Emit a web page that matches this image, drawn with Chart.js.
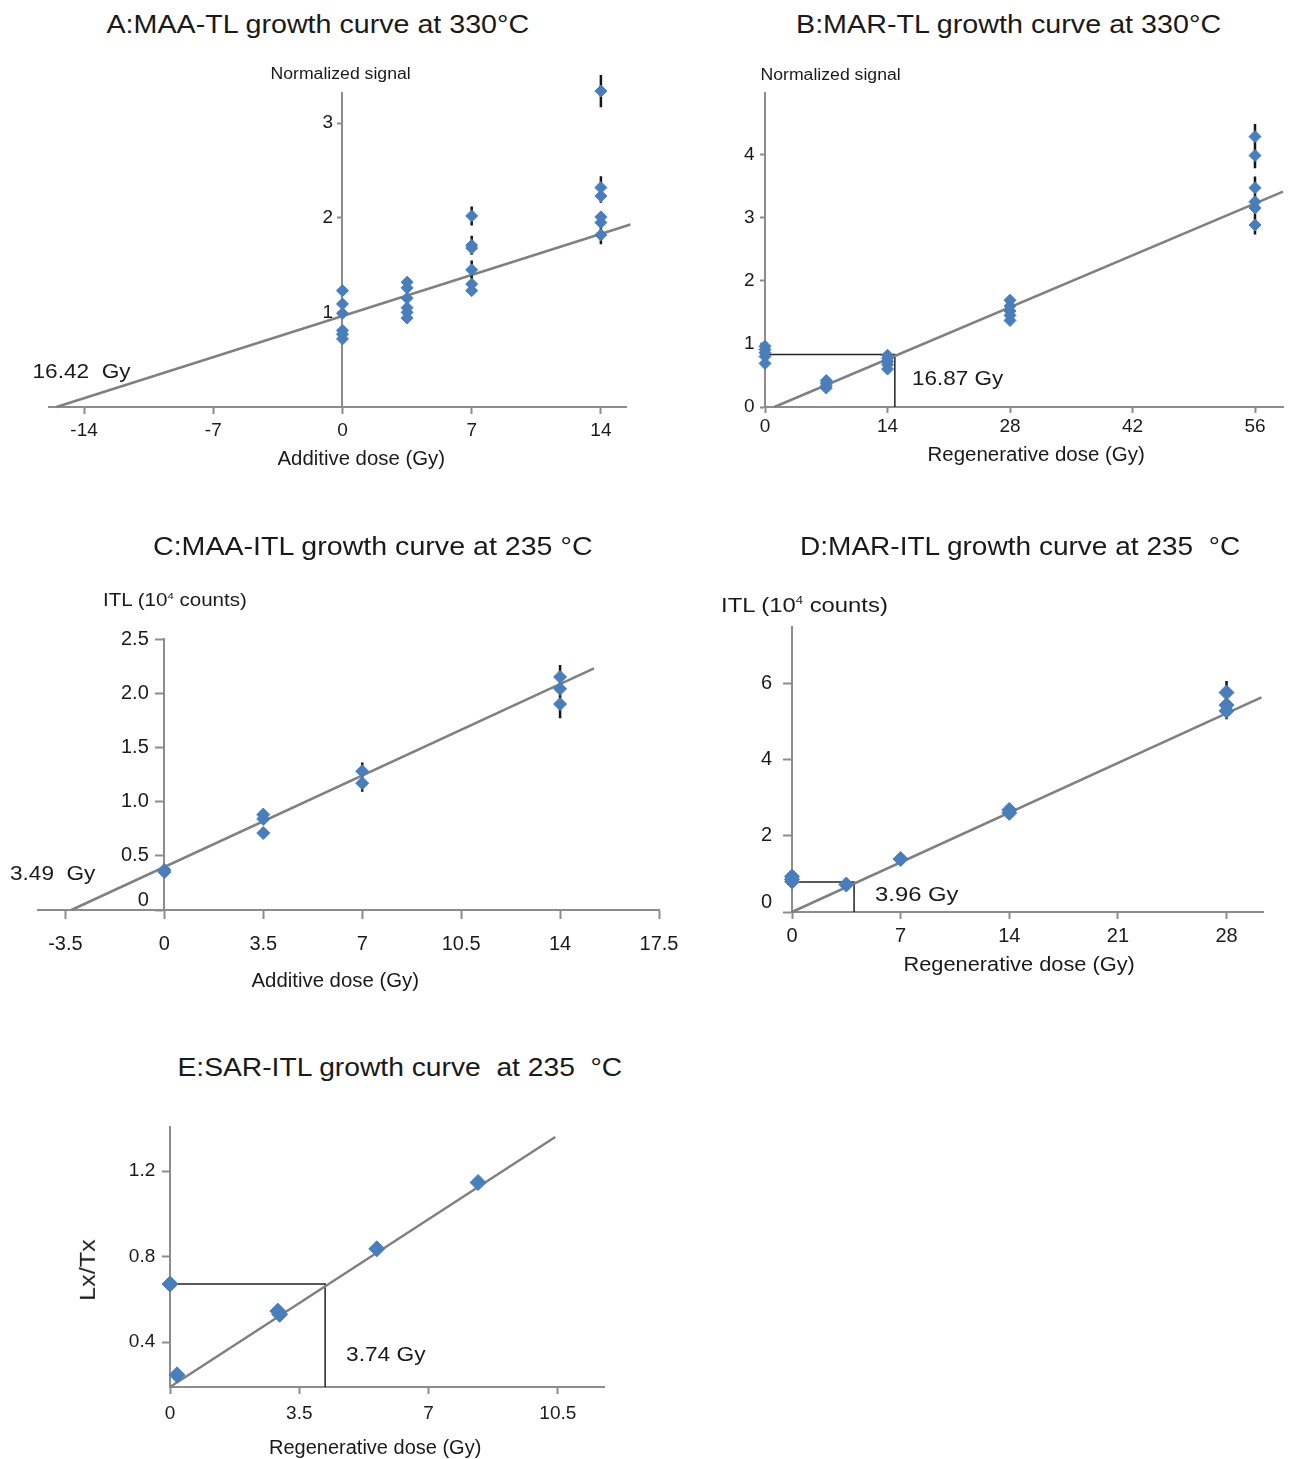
<!DOCTYPE html>
<html>
<head>
<meta charset="utf-8">
<script src="https://cdn.jsdelivr.net/npm/chart.js@4.4.1/dist/chart.umd.min.js"></script>
<style>
  body { margin: 0; background: #fff; width: 1290px; height: 1459px; position: relative; overflow: hidden;
         font-family: "Liberation Sans", Arial, sans-serif; color: #1a1a1a; }
  canvas { position: absolute; }
  .lbl { position: absolute; white-space: pre; line-height: 1; z-index: 2; }
  sup { font-size: 55%; vertical-align: 0.7em; line-height: 0; }
</style>
</head>
<body>
<canvas id="chartA" width="645" height="440" style="left:0;top:40px"></canvas>
<canvas id="chartB" width="645" height="440" style="left:645px;top:40px"></canvas>
<canvas id="chartC" width="700" height="460" style="left:0;top:560px"></canvas>
<canvas id="chartD" width="590" height="460" style="left:700px;top:560px"></canvas>
<canvas id="chartE" width="640" height="369" style="left:0;top:1090px"></canvas>

<script>
// ---- A: MAA-TL (additive dose, normalized signal) ----
const doseA = [0, 0, 0, 0, 0, 0, 3.5, 3.5, 3.5, 3.5, 3.5, 3.5, 7, 7, 7, 7, 7, 7, 14, 14, 14, 14, 14, 14];
const sigA  = [1.23, 1.09, 0.99, 0.81, 0.77, 0.72, 1.32, 1.26, 1.15, 1.05, 1.0, 0.94,
               2.02, 1.71, 1.68, 1.45, 1.30, 1.23, 3.34, 2.32, 2.23, 2.01, 1.95, 1.82];
const errA  = [0, 0, 0, 0, 0, 0, 0, 0, 0, 0, 0, 0,
               0.1, 0.1, 0, 0.1, 0, 0, 0.17, 0.12, 0.07, 0.04, 0.04, 0.1];
const fitXA = [-15.5, 15.6];
const fitYA = [0, 1.93];
const xTicksA = [-14, -7, 0, 7, 14];
const yTicksA = [1, 2, 3];

// ---- B: MAR-TL (regenerative dose) ----
const doseB = [0, 0, 0, 0, 0, 7, 7, 7, 7, 14, 14, 14, 14, 14, 28, 28, 28, 28, 28, 56, 56, 56, 56, 56, 56];
const sigB  = [0.96, 0.91, 0.86, 0.8, 0.69, 0.42, 0.38, 0.34, 0.3, 0.82, 0.77, 0.72, 0.67, 0.6,
               1.69, 1.6, 1.52, 1.45, 1.37, 4.28, 3.98, 3.47, 3.25, 3.15, 2.88];
const errB  = [0, 0, 0, 0, 0, 0, 0, 0, 0, 0, 0, 0, 0, 0, 0, 0, 0, 0, 0, 0.2, 0.2, 0.18, 0.12, 0.12, 0.15];
const fitXB = [1.07, 59.2];
const fitYB = [0, 3.41];
const guideXB = [0, 14.84, 14.84];
const guideYB = [0.83, 0.83, 0];
const xTicksB = [0, 14, 28, 42, 56];
const yTicksB = [0, 1, 2, 3, 4];

// ---- C: MAA-ITL ----
const doseC = [0, 0, 3.5, 3.5, 3.5, 7, 7, 14, 14, 14];
const sigC  = [0.37, 0.35, 0.88, 0.84, 0.71, 1.28, 1.17, 2.15, 2.04, 1.90];
const errC  = [0, 0, 0, 0, 0, 0.08, 0.08, 0.11, 0.05, 0.13];
const fitXC = [-3.29, 15.2];
const fitYC = [0, 2.23];
const xTicksC = [-3.5, 0, 3.5, 7, 10.5, 14, 17.5];
const xLabelsC = ['-3.5', '0', '3.5', '7', '10.5', '14', '17.5'];
const yTicksC = [0, 0.5, 1, 1.5, 2, 2.5];
const yLabelsC = ['0', '0.5', '1.0', '1.5', '2.0', '2.5'];

// ---- D: MAR-ITL ----
const doseD = [0, 0, 0, 3.5, 7, 14, 14, 28, 28, 28];
const sigD  = [0.93, 0.86, 0.8, 0.72, 1.39, 2.68, 2.6, 5.76, 5.43, 5.28];
const errD  = [0, 0, 0, 0, 0, 0, 0, 0.3, 0.1, 0.22];
const fitXD = [0, 30.25];
const fitYD = [0, 5.63];
const guideXD = [0, 4.0, 4.0];
const guideYD = [0.786, 0.786, 0];
const xTicksD = [0, 7, 14, 21, 28];
const yTicksD = [0, 2, 4, 6];

// ---- E: SAR-ITL ----
const doseE = [0, 0.19, 2.92, 2.97, 5.6, 8.34];
const sigE  = [0.672, 0.247, 0.545, 0.53, 0.837, 1.147];
const errE  = [0, 0, 0, 0, 0, 0];
const fitXE = [0, 10.43];
const fitYE = [0.19, 1.36];
const guideXE = [0, 4.2, 4.2];
const guideYE = [0.672, 0.672, 0.19];
const xTicksE = [0, 3.5, 7, 10.5];
const yTicksE = [0.4, 0.8, 1.2];
const yLabelsE = ['0.4', '0.8', '1.2'];

const BLUE = '#4a7ebb';
const AXIS = '#8c8c8c';
Chart.defaults.font.family = '"Liberation Sans", Arial, sans-serif';
Chart.defaults.color = '#1a1a1a';

function pts(xs, ys) {
  return xs.map((x, i) => ({ x: x, y: ys[i] }));
}
// vertical error bars as separate segments, broken by null
function bars(xs, ys, es) {
  const out = [];
  xs.forEach((x, i) => {
    if (es[i] > 0) out.push({ x: x, y: ys[i] - es[i] }, { x: x, y: ys[i] + es[i] }, { x: x, y: null });
  });
  return out;
}

// gap: trailing text used to keep y labels off an axis that sits inside the plot area
// liftZero: the "0" label sits a little above the x axis in panels C and D
function axis(min, max, pos, tickVals, tickLabels, tickLen, pad, size, gap, liftZero) {
  return {
    type: 'linear', min: min, max: max, position: pos,
    afterBuildTicks: s => { s.ticks = tickVals.map(v => ({ value: v })); },
    grid: { drawOnChartArea: false, drawTicks: true, tickLength: tickLen, tickColor: AXIS, tickWidth: 2 },
    border: { display: true, color: AXIS, width: 2 },
    ticks: {
      autoSkip: false, maxRotation: 0, padding: pad, color: '#1a1a1a',
      font: { size: size, lineHeight: liftZero ? 0.93 : 1.2 },
      callback: (v, i) => {
        const t = (tickLabels ? tickLabels[i] : String(tickVals[i])) + (gap || '');
        return (liftZero && tickVals[i] === 0) ? [t, ''] : t;
      }
    }
  };
}

function growthChart(id, c) {
  const ds = [
    { data: pts(c.dose, c.sig), pointStyle: 'rectRot', pointRadius: c.r, backgroundColor: BLUE,
      borderColor: BLUE, borderWidth: 1, clip: false, order: 0 },
    { data: bars(c.dose, c.sig, c.err), showLine: true, borderColor: '#151515', borderWidth: 2.5,
      pointRadius: 0, clip: false, order: 1 },
    { data: pts(c.fitX, c.fitY), showLine: true, borderColor: '#808080', borderWidth: 2.5,
      pointRadius: 0, clip: false, order: 2 }
  ];
  if (c.guideX) {
    ds.push({ data: pts(c.guideX, c.guideY), showLine: true, borderColor: '#222', borderWidth: 1.5,
      pointRadius: 0, clip: false, order: 3 });
  }
  return new Chart(document.getElementById(id), {
    type: 'scatter',
    data: { datasets: ds },
    options: {
      responsive: false, animation: false, events: [],
      layout: { padding: c.pad },
      plugins: { legend: { display: false }, tooltip: { enabled: false } },
      scales: {
        x: axis(c.xMin, c.xMax, { y: c.yMin }, c.xTicks, c.xLabels, c.xTick[0], c.xTick[1], c.font),
        y: axis(c.yMin, c.yMax, { x: 0 }, c.yTicks, c.yLabels, c.yTick[0], 0, c.font, c.gap, c.liftZero)
      }
    }
  });
}

growthChart('chartA', { dose: doseA, sig: sigA, err: errA, fitX: fitXA, fitY: fitYA, r: 6,
  xMin: -15.9, xMax: 15.36, yMin: 0, yMax: 3.32, xTicks: xTicksA, yTicks: yTicksA,
  xTick: [6, 6], yTick: [4], font: 19, gap: '\u2002', pad: { left: 49, top: 53, right: 19, bottom: 73 } });

growthChart('chartB', { dose: doseB, sig: sigB, err: errB, fitX: fitXB, fitY: fitYB, r: 6,
  guideX: guideXB, guideY: guideYB,
  xMin: 0, xMax: 59.2, yMin: 0, yMax: 4.97, xTicks: xTicksB, yTicks: yTicksB,
  xTick: [5, 3], yTick: [4], font: 19, gap: '  ', pad: { left: 120, top: 53, right: 1, bottom: 73 } });

growthChart('chartC', { dose: doseC, sig: sigC, err: errC, fitX: fitXC, fitY: fitYC, r: 6.5,
  xMin: -4.47, xMax: 17.5, yMin: 0, yMax: 2.5, xTicks: xTicksC, xLabels: xLabelsC,
  yTicks: yTicksC, yLabels: yLabelsC, liftZero: true,
  xTick: [8, 14], yTick: [8], font: 20, gap: '\u2002 ', pad: { left: 38, top: 79, right: 41, bottom: 110 } });

growthChart('chartD', { dose: doseD, sig: sigD, err: errD, fitX: fitXD, fitY: fitYD, r: 7.5,
  guideX: guideXD, guideY: guideYD, liftZero: true,
  xMin: 0, xMax: 30.35, yMin: 0, yMax: 7.48, xTicks: xTicksD, yTicks: yTicksD,
  xTick: [6, 6], yTick: [8], font: 20, gap: '\u2002\u2002', pad: { left: 92, top: 67, right: 27, bottom: 108 } });

growthChart('chartE', { dose: doseE, sig: sigE, err: errE, fitX: fitXE, fitY: fitYE, r: 8,
  guideX: guideXE, guideY: guideYE,
  xMin: 0, xMax: 11.75, yMin: 0.19, yMax: 1.407, xTicks: xTicksE, yTicks: yTicksE, yLabels: yLabelsE,
  xTick: [6, 9], yTick: [7], font: 19, gap: '\u2002 ', pad: { left: 170, top: 37, right: 36, bottom: 72 } });

// titles, axis titles and dose annotations: [html, centre x, centre y, font px, width px, rotate]
const labels = [
  ['A:MAA-TL growth curve at 330°C', 318, 24, 26, 423],
  ['B:MAR-TL growth curve at 330°C', 1008, 24, 26, 425],
  ['C:MAA-ITL growth curve at 235 °C', 373, 546, 26, 440],
  ['D:MAR-ITL growth curve at 235  °C', 1020, 546, 26, 440],
  ['E:SAR-ITL growth curve  at 235  °C', 400, 1067, 26, 445],
  ['Normalized signal', 340, 74, 16, 140],
  ['Normalized signal', 830, 75, 16, 140],
  ['Additive dose (Gy)', 361, 458, 20, 168],
  ['Regenerative dose (Gy)', 1036, 454, 20, 217],
  ['ITL (10<sup>4</sup> counts)', 175, 600, 18, 144],
  ['Additive dose (Gy)', 335, 980, 20, 168],
  ['ITL (10<sup>4</sup> counts)', 804, 604, 21, 167],
  ['Regenerative dose (Gy)', 1019, 964, 20, 231],
  ['Lx/Tx', 88, 1270, 22, 62, -90],
  ['Regenerative dose (Gy)', 375, 1447, 20, 212],
  ['16.42  Gy', 81, 370, 21, 98],
  ['16.87 Gy', 957, 377, 21, 91],
  ['3.49  Gy', 52, 872, 21, 85],
  ['3.96 Gy', 917, 893, 21, 84],
  ['3.74 Gy', 386, 1353, 21, 80]
];
labels.forEach(([html, cx, cy, size, w, rot]) => {
  const el = document.createElement('div');
  el.className = 'lbl';
  el.innerHTML = html;
  el.style.fontSize = size + 'px';
  document.body.appendChild(el);
  const sx = w / el.offsetWidth;
  el.style.left = (cx - el.offsetWidth / 2) + 'px';
  el.style.top = (cy - el.offsetHeight / 2) + 'px';
  el.style.transform = (rot ? 'rotate(' + rot + 'deg) ' : '') + 'scaleX(' + sx + ')';
});
</script>
</body>
</html>
